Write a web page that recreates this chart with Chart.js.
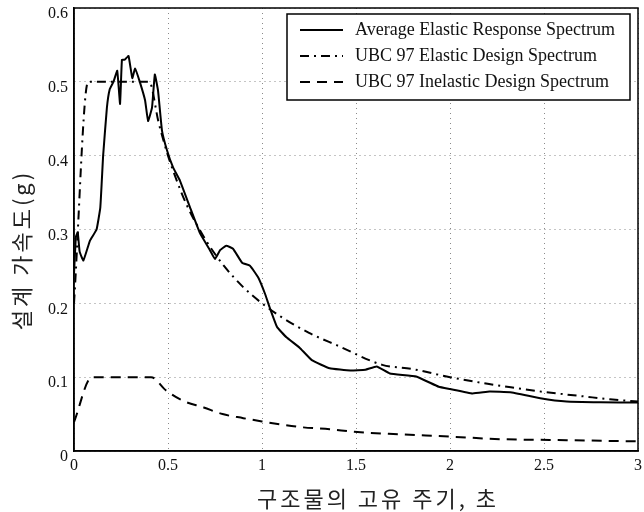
<!DOCTYPE html>
<html>
<head>
<meta charset="utf-8">
<script src="https://cdn.jsdelivr.net/npm/chart.js@4/dist/chart.umd.min.js"></script>
<style>
  html, body { margin: 0; padding: 0; background: #fff; }
  #wrap { width: 644px; height: 512px; }
</style>
</head>
<body>
<div id="wrap"><canvas id="spectrum-chart" width="644" height="512"></canvas></div>
<script>
// period (s) and spectral acceleration (g)
const avgPeriod = [0, 0.01, 0.02, 0.03, 0.05, 0.085, 0.12, 0.14, 0.155, 0.175, 0.19, 0.21, 0.23, 0.245, 0.255, 0.27, 0.29, 0.31, 0.325, 0.35, 0.378, 0.394, 0.415, 0.43, 0.447, 0.468, 0.495, 0.527, 0.564, 0.617, 0.67, 0.723, 0.75, 0.777, 0.81, 0.846, 0.894, 0.936, 0.98, 1.016, 1.04, 1.08, 1.13, 1.2, 1.265, 1.36, 1.47, 1.55, 1.61, 1.68, 1.82, 1.94, 2.0, 2.12, 2.21, 2.32, 2.48, 2.62, 2.8, 3.0]
const avgAccel = [0.24, 0.29, 0.296, 0.27, 0.258, 0.285, 0.3, 0.33, 0.4, 0.465, 0.49, 0.5, 0.515, 0.47, 0.53, 0.53, 0.535, 0.505, 0.518, 0.5, 0.475, 0.447, 0.465, 0.51, 0.488, 0.434, 0.407, 0.384, 0.366, 0.33, 0.295, 0.272, 0.26, 0.272, 0.278, 0.274, 0.255, 0.251, 0.235, 0.213, 0.195, 0.168, 0.154, 0.14, 0.123, 0.112, 0.109, 0.11, 0.1145, 0.105, 0.101, 0.087, 0.084, 0.078, 0.0805, 0.0796, 0.0715, 0.067, 0.066, 0.0656]

const elasticPeriod = [0, 0.075, 0.4, 0.45, 0.5, 0.55, 0.6, 0.7, 0.8, 0.9, 1.0, 1.1, 1.25, 1.4, 1.64, 1.8, 2.0, 2.2, 2.36, 2.5, 2.71, 2.85, 3.0]
const elasticAccel = [0.2, 0.5, 0.5, 0.445, 0.4, 0.364, 0.333, 0.286, 0.25, 0.222, 0.2, 0.182, 0.16, 0.143, 0.1167, 0.111, 0.1, 0.091, 0.085, 0.08, 0.074, 0.07, 0.067]

const inelasticPeriod = [0, 0.095, 0.41, 0.49, 0.58, 0.69, 0.79, 0.9, 1.0, 1.11, 1.22, 1.36, 1.49, 1.73, 2.0, 2.27, 2.53, 3.0]
const inelasticAccel = [0.039, 0.1, 0.1, 0.082, 0.068, 0.059, 0.05, 0.0445, 0.04, 0.0355, 0.032, 0.0295, 0.026, 0.0226, 0.0195, 0.016, 0.015, 0.013]

const seriesLabels = ["Average Elastic Response Spectrum", "UBC 97 Elastic Design Spectrum", "UBC 97 Inelastic Design Spectrum"]
const xTitle = "구조물의 고유 주기, 초"
const yTitle = "설계 가속도(g)"

const SERIF = "'Liberation Serif', 'DejaVu Serif', serif"
const KOREAN = "'Noto Sans CJK KR', 'Noto Sans', sans-serif"

const toPoints = (xs, ys) => xs.map((x, i) => ({ x, y: ys[i] }))

// frame around the plot, legend box, spaced-out Korean axis titles
const frameAndLegend = {
  id: "frameAndLegend",
  afterDatasetsDraw(chart) {
    const { ctx, chartArea: a } = chart
    ctx.save()
    ctx.strokeStyle = "#000"
    ctx.lineWidth = 1.5
    ctx.strokeRect(a.left, a.top, a.right - a.left, a.bottom - a.top)

    const box = { x: 287, y: 14, w: 343, h: 86 }
    ctx.fillStyle = "#fff"
    ctx.fillRect(box.x, box.y, box.w, box.h)
    ctx.strokeRect(box.x, box.y, box.w, box.h)

    ctx.font = "18px " + SERIF
    ctx.textBaseline = "middle"
    chart.data.datasets.forEach((ds, i) => {
      const y = box.y + 16 + i * 26
      ctx.beginPath()
      ctx.setLineDash(ds.borderDash || [])
      ctx.lineWidth = ds.borderWidth
      ctx.strokeStyle = "#000"
      ctx.moveTo(box.x + 13, y)
      ctx.lineTo(box.x + 56, y)
      ctx.stroke()
      ctx.setLineDash([])
      ctx.fillStyle = "#111"
      ctx.fillText(ds.label, box.x + 68, y)
    })

    // axis titles
    ctx.fillStyle = "#222"
    ctx.font = "22px " + KOREAN
    ctx.textAlign = "center"
    ctx.letterSpacing = "3px"
    ctx.fillText(xTitle, 378, 499)
    ctx.translate(22, 250)
    ctx.rotate(-Math.PI / 2)
    ctx.fillText(yTitle, 0, 0)
    ctx.restore()
  }
}

new Chart(document.getElementById("spectrum-chart"), {
  type: "line",
  data: {
    datasets: [
      {
        label: seriesLabels[0],
        data: toPoints(avgPeriod, avgAccel),
        borderColor: "#000",
        borderWidth: 2,
        pointRadius: 0,
        tension: 0.1
      },
      {
        label: seriesLabels[1],
        data: toPoints(elasticPeriod, elasticAccel),
        borderColor: "#000",
        borderWidth: 2,
        borderDash: [9, 5, 2, 5],
        pointRadius: 0,
        cubicInterpolationMode: "monotone"
      },
      {
        label: seriesLabels[2],
        data: toPoints(inelasticPeriod, inelasticAccel),
        borderColor: "#000",
        borderWidth: 2,
        borderDash: [10, 7],
        pointRadius: 0,
        cubicInterpolationMode: "monotone"
      }
    ]
  },
  options: {
    responsive: false,
    animation: false,
    layout: { padding: { top: 8, right: 6, left: 0, bottom: 0 } },
    plugins: {
      legend: { display: false },
      tooltip: { enabled: false }
    },
    scales: {
      x: {
        type: "linear",
        min: 0,
        max: 3,
        afterFit: s => { s.height = 61; s.paddingLeft = 0; s.paddingRight = 0 },
        ticks: {
          stepSize: 0.5,
          padding: 5,
          color: "#111",
          font: { family: SERIF, size: 16 },
          callback: v => String(v)
        },
        grid: { color: "#8a8a8a", drawTicks: false },
        border: { color: "#000", width: 1.5, dash: [1, 4] }
      },
      y: {
        min: 0,
        max: 0.6,
        afterFit: s => { s.width = 74; s.paddingTop = 0; s.paddingBottom = 0 },
        ticks: {
          stepSize: 0.1,
          padding: 6,
          labelOffset: 6,
          color: "#111",
          font: { family: SERIF, size: 16 },
          callback: v => String(Math.round(v * 10) / 10)
        },
        grid: { color: "#8a8a8a", drawTicks: false },
        border: { color: "#000", width: 1.5, dash: [1, 4] }
      }
    }
  },
  plugins: [frameAndLegend]
})
</script>
</body>
</html>
